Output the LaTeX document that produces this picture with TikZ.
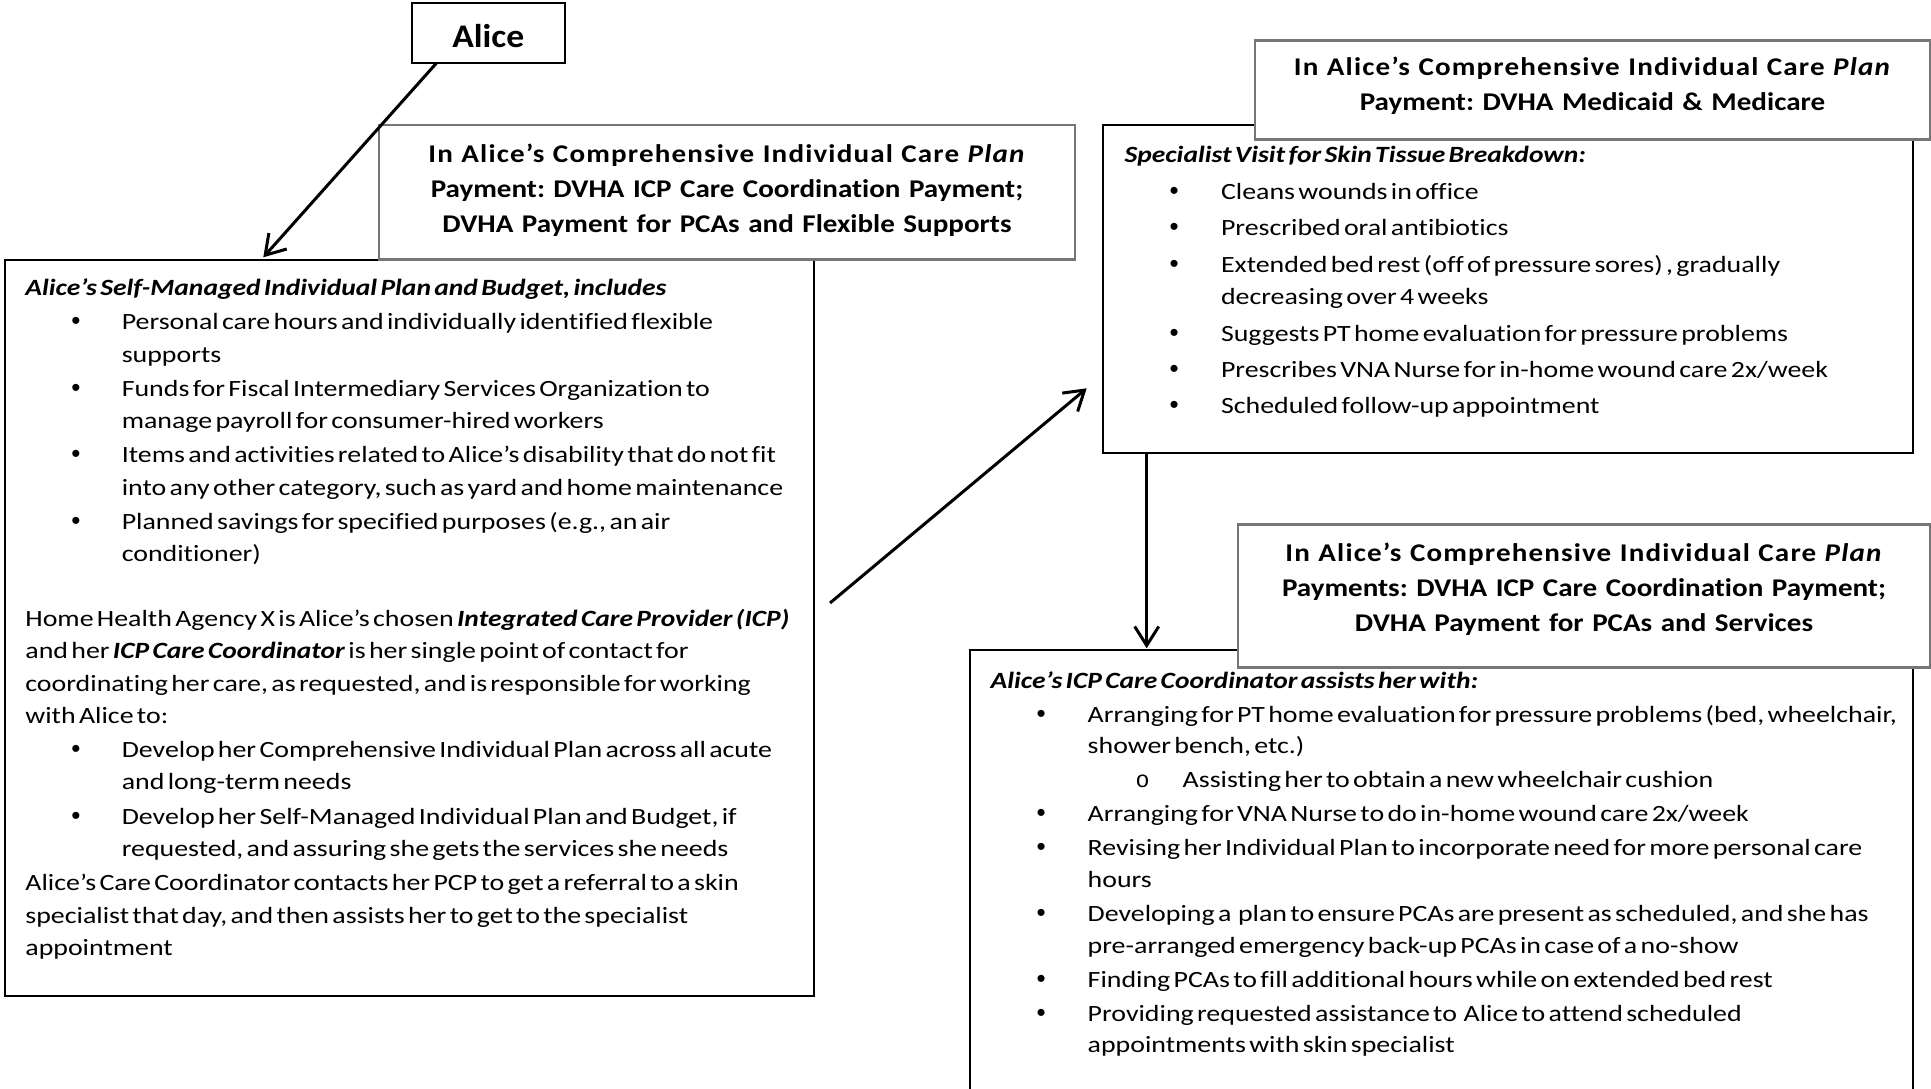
\documentclass[tikz,border=0pt]{standalone}
\usepackage{fontspec}
\setmainfont{Carlito}[FakeStretch=1.197, Ligatures=NoCommon, BoldItalicFeatures={FakeStretch=1.182}]
\newfontfamily\hdrfnt{Carlito}[FakeStretch=1.14, Ligatures=NoCommon]
\newfontfamily\spacedfnt{Carlito}[FakeStretch=1.14, LetterSpace=4.5]
\newfontfamily\alicefnt{Carlito}[FakeStretch=1.08]
\newfontfamily\monofnt{Liberation Mono}
\newfontfamily\bulfnt{Liberation Sans}
\usetikzlibrary{arrows.meta,calc}
\definecolor{boxgray}{RGB}{118,118,118}
\newcommand{\bitem}[2]{\par\hangindent=#2pt\hangafter=1\noindent\makebox[#2pt][l]{\hspace{#1pt}{\bulfnt\fontsize{26}{26}\selectfont •}}}
\newcommand{\sitem}[2]{\par\hangindent=#2pt\hangafter=1\noindent\makebox[#2pt][l]{\hspace{#1pt}{\monofnt o}}}
\tikzset{
  blackbox/.style={draw=black, line width=2pt, fill=white, inner sep=0pt, outer sep=0pt, anchor=north west},
  graybox/.style={draw=boxgray, line width=2.5pt, fill=white, inner sep=0pt, outer sep=0pt, anchor=north west},
  bodytext/.style={anchor=north west, inner sep=0pt, outer sep=0pt, text width=1200pt},
  paytext/.style={anchor=north, inner sep=0pt, outer sep=0pt, text width=#1,
    font=\hdrfnt\bfseries\fontsize{25.5}{35}\selectfont},
  arr/.style={line width=3pt, -{Straight Barb[length=19pt,width=24pt]}},
}
\begin{document}
\frenchspacing
\begin{tikzpicture}[x=1pt,y=-1pt]
\useasboundingbox[fill=white] (0,0) rectangle (1931,1089);

% main black boxes
\node[blackbox, minimum width=808.5pt, minimum height=736pt] (leftbox) at (5,260) {};
\node[blackbox, minimum width=809.5pt, minimum height=328pt] (specbox) at (1103,125) {};
\node[blackbox, minimum width=943pt, minimum height=470pt] (botbox) at (970,650) {};

% left box text
\node[bodytext] (lefttext) at (25.4,272.8) {\fontsize{23.3}{32.3}\selectfont\frenchspacing\setlength{\parindent}{0pt}\setlength{\parskip}{2pt}\raggedright
\strut\textbf{\textit{Alice’s Self-Managed Individual Plan and Budget, includes}}
\bitem{46}{96.4}Personal care hours and individually identified flexible\newline supports
\bitem{46}{96.4}Funds for Fiscal Intermediary Services Organization to\newline manage payroll for consumer-hired workers
\bitem{46}{96.4}Items and activities related to Alice’s disability that do not fit\newline into any other category, such as yard and home maintenance
\bitem{46}{96.4}Planned savings for specified purposes (e.g., an air\newline conditioner)
\par\vspace{30.3pt}
\noindent Home Health Agency X is Alice’s chosen \textbf{\textit{Integrated Care Provider (ICP)}}\newline and her \textbf{\textit{ICP Care Coordinator}} is her single point of contact for\newline coordinating her care, as requested, and is responsible for working\newline with Alice to:
\bitem{46}{96.4}Develop her Comprehensive Individual Plan across all acute\newline and long-term needs
\bitem{46}{96.4}Develop her Self-Managed Individual Plan and Budget, if\newline requested, and assuring she gets the services she needs
\par\noindent Alice’s Care Coordinator contacts her PCP to get a referral to a skin\newline specialist that day, and then assists her to get to the specialist\newline appointment\par};

% specialist box text
\node[bodytext] (spectext) at (1124.5,140.3) {\fontsize{23.3}{32.3}\selectfont\frenchspacing\setlength{\parindent}{0pt}\setlength{\parskip}{4.15pt}\raggedright
\strut\textbf{\textit{Specialist Visit for Skin Tissue Breakdown:}}
\bitem{45}{96.5}Cleans wounds in office
\bitem{45}{96.5}Prescribed oral antibiotics
\bitem{45}{96.5}Extended bed rest (off of pressure sores) , gradually\newline decreasing over 4 weeks
\bitem{45}{96.5}Suggests PT home evaluation for pressure problems
\bitem{45}{96.5}Prescribes VNA Nurse for in-home wound care 2x/week
\bitem{45}{96.5}Scheduled follow-up appointment\par};

% bottom box text
\node[bodytext] (bottext) at (990.7,666.2) {\fontsize{23.3}{31.6}\selectfont\frenchspacing\setlength{\parindent}{0pt}\setlength{\parskip}{2.4pt}\raggedright
\strut\textbf{\textit{Alice’s ICP Care Coordinator assists her with:}}
\bitem{46}{97}Arranging for PT home evaluation for pressure problems (bed, wheelchair,\newline shower bench, etc.)
\sitem{145}{192}Assisting her to obtain a new wheelchair cushion
\bitem{46}{97}Arranging for VNA Nurse to do in-home wound care 2x/week
\bitem{46}{97}Revising her Individual Plan to incorporate need for more personal care\newline hours
\bitem{46}{97}Developing a\ \ plan to ensure PCAs are present as scheduled, and she has\newline pre-arranged emergency back-up PCAs in case of a no-show
\bitem{46}{97}Finding PCAs to fill additional hours while on extended bed rest
\bitem{46}{97}Providing requested assistance to\ \ Alice to attend scheduled\newline appointments with skin specialist\par};

% payment boxes
\node[graybox, minimum width=696pt, minimum height=134.5pt] (pay1) at (379,125) {};
\node[graybox, minimum width=675pt, minimum height=99pt] (pay2) at (1255,40.5) {};
\node[graybox, minimum width=692pt, minimum height=143pt] (pay3) at (1238,524.5) {};

\node[paytext=690pt] (pay1text) at (727,138.2) {\centering\frenchspacing
\strut{\spacedfnt\bfseries In Alice’s Comprehensive Individual Care \textit{Plan}}\\
Payment: DVHA ICP Care Coordination Payment;\\
DVHA Payment for PCAs and Flexible Supports\par};
\node[paytext=670pt] (pay2text) at (1592.5,51) {\centering\frenchspacing
\strut{\spacedfnt\bfseries In Alice’s Comprehensive Individual Care \textit{Plan}}\\
Payment: DVHA Medicaid \& Medicare\par};
\node[paytext=690pt] (pay3text) at (1584,536.5) {\centering\frenchspacing
\strut{\spacedfnt\bfseries In Alice’s Comprehensive Individual Care \textit{Plan}}\\
Payments: DVHA ICP Care Coordination Payment;\\
DVHA Payment for PCAs and Services\par};

% Alice
\node[blackbox, minimum width=153pt, minimum height=60.5pt] (alice) at (411.8,2.8) {};
\node[anchor=base, inner sep=0pt, font=\alicefnt\bfseries\fontsize{33}{40}\selectfont] (alicetext) at (488.3,47.3) {Alice};

% arrows
\coordinate (a2start) at (830,603);
\draw[arr] ($(alice.south west)+(24.5,0)$) -- ($(leftbox.north west)+(258.3,-2.7)$);
\draw[arr] (a2start) -- ($(specbox.north west)+(-16.3,263.3)$);
\draw[arr] ($(specbox.south west)+(43.7,0)$) -- ($(botbox.north west)+(176.7,-1.7)$);
\end{tikzpicture}
\end{document}
